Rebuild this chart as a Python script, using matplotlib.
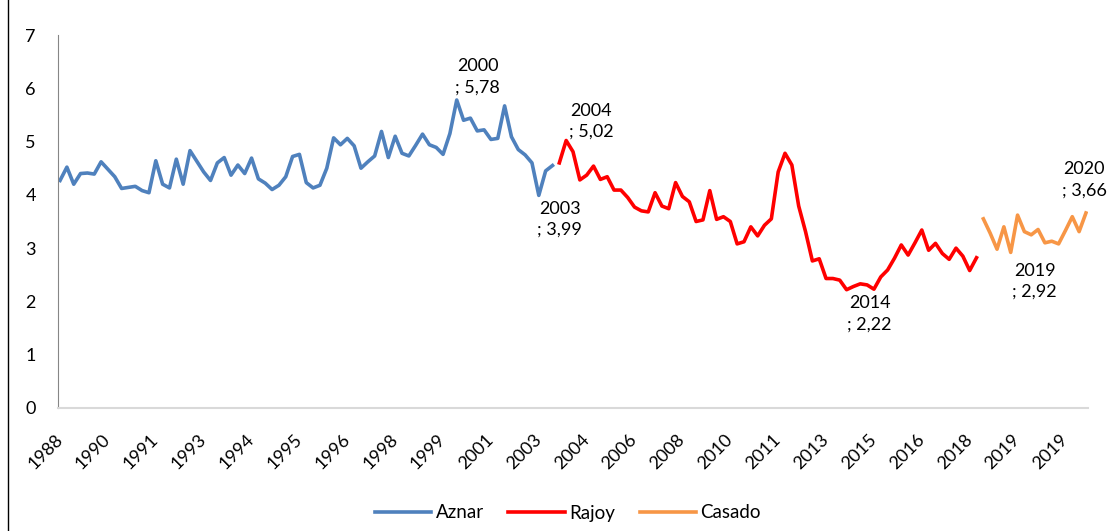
import numpy as np
import matplotlib.pyplot as plt
from matplotlib.lines import Line2D

plt.rcParams['font.family'] = ['Lato', 'DejaVu Sans']

# valoración media de los líderes (Aznar, Rajoy, Casado)
aznar = [4.27, 4.52, 4.20, 4.40, 4.41, 4.39, 4.62, 4.48, 4.34, 4.12,
         4.14, 4.16, 4.08, 4.04, 4.64, 4.20, 4.13, 4.67, 4.20, 4.83,
         4.63, 4.43, 4.27, 4.60, 4.70, 4.37, 4.56, 4.40, 4.69, 4.30,
         4.22, 4.10, 4.18, 4.34, 4.72, 4.76, 4.23, 4.13, 4.18, 4.50,
         5.07, 4.94, 5.06, 4.92, 4.50, 4.62, 4.73, 5.19, 4.70, 5.10,
         4.78, 4.73, 4.93, 5.14, 4.94, 4.89, 4.76, 5.15, 5.78, 5.40,
         5.44, 5.20, 5.22, 5.04, 5.06, 5.67, 5.09, 4.85, 4.75, 4.60,
         3.99, 4.45, 4.55]
rajoy = [4.60, 5.02, 4.81, 4.28, 4.37, 4.54, 4.29, 4.34, 4.09, 4.09,
         3.95, 3.77, 3.70, 3.68, 4.04, 3.79, 3.74, 4.23, 3.97, 3.87,
         3.50, 3.53, 4.08, 3.54, 3.59, 3.50, 3.08, 3.12, 3.40, 3.23,
         3.43, 3.55, 4.43, 4.78, 4.56, 3.79, 3.31, 2.76, 2.80, 2.43,
         2.43, 2.40, 2.22, 2.28, 2.33, 2.31, 2.23, 2.46, 2.59, 2.81,
         3.06, 2.87, 3.10, 3.34, 2.96, 3.09, 2.90, 2.79, 3.00, 2.85,
         2.58, 2.82]
casado = [3.55, 3.28, 2.98, 3.40, 2.92, 3.62, 3.31, 3.25, 3.35, 3.10,
          3.13, 3.08, 3.33, 3.59, 3.31, 3.66]

tick_labels = ['1988', '1990', '1991', '1993', '1994', '1995', '1996', '1998',
               '1999', '2001', '2003', '2004', '2006', '2008', '2010', '2011',
               '2013', '2015', '2016', '2018', '2019', '2019']
tick_step = 7

# etiquetas de datos: (índice, año, desplazamiento en px)
labels = [(58, '2000', (21, 23)), (70, '2003', (21, -24)), (74, '2004', (25, 19)),
          (115, '2014', (23, -24)), (139, '2019', (24, -29)), (150, '2020', (-2, 33))]

values = aznar + rajoy + casado
x_az = np.arange(len(aznar))
x_ra = np.arange(len(aznar), len(aznar) + len(rajoy))
x_ca = np.arange(len(aznar) + len(rajoy), len(values))

fig = plt.figure(figsize=(11.14, 5.31), dpi=100)
ax = fig.add_axes([58/1114, 1 - 408/531, 1030/1114, 373/531])

ax.plot(x_az, aznar, color='#4F81BD', lw=2.6, label='Aznar')
ax.plot(x_ra, rajoy, color='#FF0000', lw=2.6, label='Rajoy')
ax.plot(x_ca, casado, color='#F79646', lw=2.6, label='Casado')

for i, year, off in labels:
    txt = year + '\n; ' + ('%.2f' % values[i]).replace('.', ',')
    ax.annotate(txt, (i, values[i]), xytext=off, textcoords='offset pixels',
                ha='center', va='center', fontsize=13, linespacing=1.4)

ax.set_ylim(0, 7)
ax.set_xlim(-0.3, len(values) - 0.7)
ax.set_yticks(range(8))
ax.set_xticks(np.arange(0, tick_step * len(tick_labels), tick_step))
ax.set_xticklabels(tick_labels, rotation=45, ha='right', va='center',
                   rotation_mode='anchor')
ax.tick_params(axis='x', length=0, pad=21, labelsize=13)
ax.tick_params(axis='y', length=0, pad=16, labelsize=13)

for s in ['top', 'right']:
    ax.spines[s].set_visible(False)
ax.spines['left'].set_color('#868686')
ax.spines['bottom'].set_color('#D9D9D9')
ax.spines['bottom'].set_linewidth(1.5)

fig.legend(loc='center', bbox_to_anchor=(568/1114, 1 - 513/531), ncol=3,
           frameon=False, fontsize=13.5, handlelength=3.0, handletextpad=0.25,
           columnspacing=1.3)

# borde izquierdo del gráfico
fig.lines.append(Line2D([7.5/1114, 7.5/1114], [0, 1], transform=fig.transFigure,
                        color='black', lw=1))

fig.savefig('out.png', dpi=100)
